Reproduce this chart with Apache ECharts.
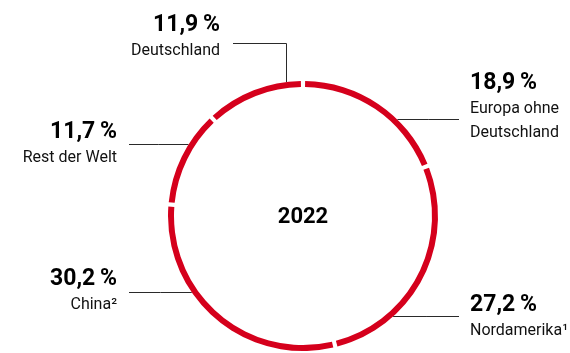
<!DOCTYPE html>
<html><head><meta charset="utf-8">
<script src="https://cdn.jsdelivr.net/npm/echarts@6/dist/echarts.min.js"></script>
<style>html,body{margin:0;padding:0;background:#fff}#c{width:570px;height:353px}</style>
</head><body><div id="c"></div>
<script>
// ---- data ----
const categories = ['Europa ohne\nDeutschland', 'Nordamerika\u00B9', 'China\u00B2', 'Rest der Welt', 'Deutschland'];
const shares = [18.9, 27.2, 30.2, 11.7, 11.9];
const centerLabel = '2022';

// ---- layout / style ----
const CX = 303, CY = 216, R_IN = 129, R_OUT = 135;
const placements = [
  {x: 470, y: 70,  align: 'left',  lineY: 119.5, endX: 459},
  {x: 470, y: 292, align: 'left',  lineY: 316.5, endX: 459},
  {x: 117, y: 266, align: 'right', lineY: 292.5, endX: 129},
  {x: 117, y: 119, align: 'right', lineY: 144.5, endX: 129},
  {x: 220, y: 12,  align: 'right', lineY: 43.5,  endX: 233, vX: 286.5}
];
const FONT = 'Roboto, "Liberation Sans", sans-serif';

function linePoints(p) {
  if (p.vX != null) {
    const y = CY - Math.sqrt(R_OUT * R_OUT - (p.vX - CX) * (p.vX - CX));
    return [[p.vX, y], [p.vX, p.lineY], [p.endX, p.lineY]];
  }
  const sign = p.align === 'left' ? 1 : -1;
  const x = CX + sign * Math.sqrt(R_OUT * R_OUT - (p.lineY - CY) * (p.lineY - CY));
  return [[x, p.lineY], [(x + p.endX) / 2, p.lineY], [p.endX, p.lineY]];
}

const chart = echarts.init(document.getElementById('c'), null, {renderer: 'canvas'});
chart.setOption({
  animation: false,
  backgroundColor: '#fff',
  graphic: [{
    type: 'text', x: CX, y: CY + 1,
    style: {text: centerLabel, fontFamily: FONT, fontSize: 22, fontWeight: 'bold', fill: '#000',
            align: 'center', verticalAlign: 'middle'}
  }],
  series: [{
    type: 'pie',
    center: [CX, CY],
    radius: [R_IN, R_OUT],
    startAngle: 90,
    clockwise: true,
    padAngle: 1.8,
    avoidLabelOverlap: false,
    silent: true,
    itemStyle: {color: '#d5001c'},
    label: {
      show: true,
      position: 'outside',
      fontFamily: FONT,
      color: '#111',
      formatter: function (p) {
        return '{v|' + p.value.toFixed(1).replace('.', ',') + '\u2009%}\n' +
          p.name.split('\n').map(function (s) { return '{n|' + s + '}'; }).join('\n');
      }
    },
    labelLine: {show: true, lineStyle: {color: '#2a2a2a', width: 1}},
    labelLayout: function (params) {
      const p = placements[params.dataIndex];
      return {x: p.x, y: p.y, align: p.align, verticalAlign: 'top', labelLinePoints: linePoints(p)};
    },
    data: shares.map(function (v, i) {
      const al = placements[i].align;
      return {
        value: v, name: categories[i],
        label: {align: al, rich: {
          v: {fontFamily: FONT, fontSize: 23, fontWeight: 'bold', lineHeight: 27, color: '#000', align: al},
          n: {fontFamily: FONT, fontSize: 16, lineHeight: 24, color: '#111', align: al}
        }}
      };
    })
  }]
});
</script></body></html>
